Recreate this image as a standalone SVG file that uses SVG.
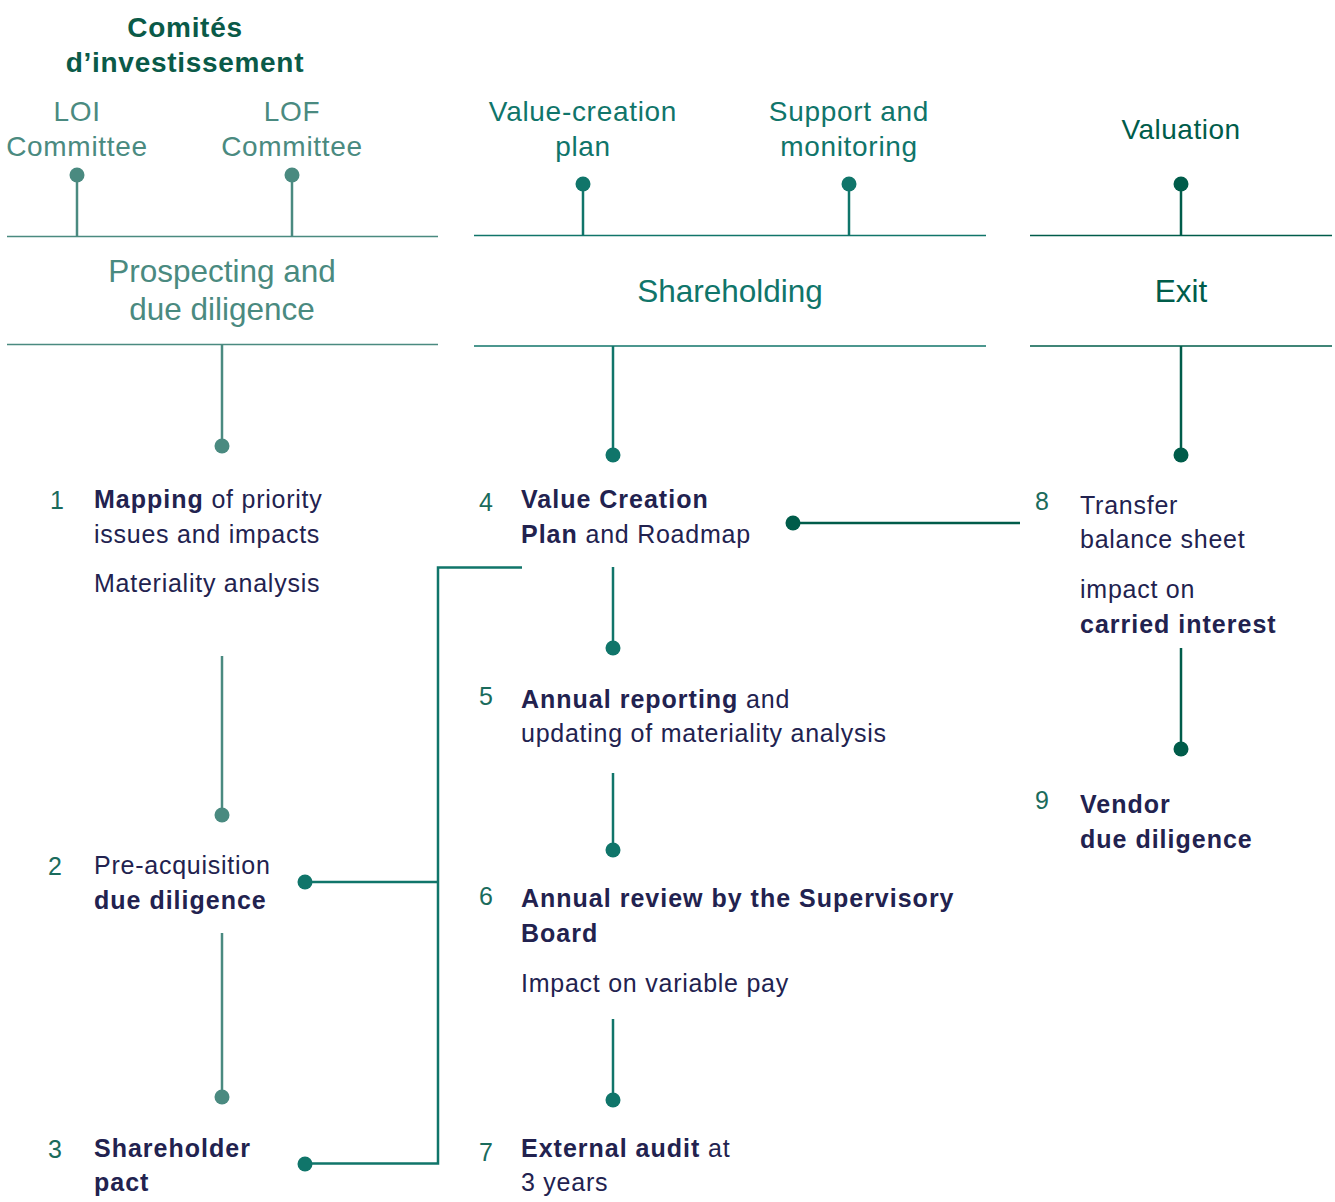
<svg xmlns="http://www.w3.org/2000/svg" width="1335" height="1202" viewBox="0 0 1335 1202">
<style>
text{font-family:"Liberation Sans",Arial,sans-serif}
.t{fill:#22224f;font-size:25px;letter-spacing:0.75px}
.b{font-weight:bold;letter-spacing:1px}
.n{fill:#1a6b5c;font-size:25px}
.h1{fill:#4a8a80;font-size:28px;letter-spacing:0.7px}
.h2{fill:#10756a;font-size:28px;letter-spacing:0.7px}
.h3{fill:#005c4a;font-size:28px;letter-spacing:0.5px}
.s{font-size:31.5px;letter-spacing:0}
.c1{stroke:#4a8a80;stroke-width:2.5;fill:none}
.c2{stroke:#10756a;stroke-width:2.5;fill:none}
.c3{stroke:#005c4a;stroke-width:2.5;fill:none}
.d1{fill:#4a8a80}.d2{fill:#10756a}.d3{fill:#005c4a}
.hl1{stroke:#4a8a80;stroke-width:1.5}
.hl2{stroke:#10756a;stroke-width:1.5}
.hl3{stroke:#005c4a;stroke-width:1.5}
</style>
<g id="title"><text x="185" y="37" text-anchor="middle" font-size="28" font-weight="bold" fill="#0a5a48" letter-spacing="0.7">Comités</text><text x="185" y="72" text-anchor="middle" font-size="28" font-weight="bold" fill="#0a5a48" letter-spacing="0.7">d’investissement</text></g>

<g id="col1-header">
<text class="h1" x="77" y="121" text-anchor="middle">LOI</text><text class="h1" x="77" y="156" text-anchor="middle">Committee</text>
<text class="h1" x="292" y="121" text-anchor="middle">LOF</text><text class="h1" x="292" y="156" text-anchor="middle">Committee</text>
<line class="c1" x1="77" y1="175" x2="77" y2="236"/><circle class="d1" cx="77" cy="175" r="7.5"/>
<line class="c1" x1="292" y1="175" x2="292" y2="236"/><circle class="d1" cx="292" cy="175" r="7.5"/>
<line class="hl1" x1="7" y1="236.5" x2="438" y2="236.5"/>
<text class="h1 s" x="222" y="282" text-anchor="middle">Prospecting and</text>
<text class="h1 s" x="222" y="320" text-anchor="middle">due diligence</text>
<line class="hl1" x1="7" y1="344.5" x2="438" y2="344.5"/>
</g>

<g id="col2-header">
<text class="h2" x="583" y="121" text-anchor="middle">Value-creation</text><text class="h2" x="583" y="156" text-anchor="middle">plan</text>
<text class="h2" x="849" y="121" text-anchor="middle">Support and</text><text class="h2" x="849" y="156" text-anchor="middle">monitoring</text>
<line class="c2" x1="583" y1="184" x2="583" y2="235"/><circle class="d2" cx="583" cy="184" r="7.5"/>
<line class="c2" x1="849" y1="184" x2="849" y2="235"/><circle class="d2" cx="849" cy="184" r="7.5"/>
<line class="hl2" x1="474" y1="235.5" x2="986" y2="235.5"/>
<text class="h2 s" x="730" y="302" text-anchor="middle">Shareholding</text>
<line class="hl2" x1="474" y1="346" x2="986" y2="346"/>
</g>

<g id="col3-header">
<text class="h3" x="1181" y="139" text-anchor="middle">Valuation</text>
<line class="c3" x1="1181" y1="184" x2="1181" y2="235"/><circle class="d3" cx="1181" cy="184" r="7.5"/>
<line class="hl3" x1="1030" y1="235.5" x2="1332" y2="235.5"/>
<text class="h3 s" x="1181" y="302" text-anchor="middle">Exit</text>
<line class="hl3" x1="1030" y1="346" x2="1332" y2="346"/>
</g>

<g id="node1"><text class="n" x="50" y="509">1</text>
<text class="t" x="94" y="508"><tspan class="b">Mapping</tspan> of priority</text>
<text class="t" x="94" y="543">issues and impacts</text>
<text class="t" x="94" y="592">Materiality analysis</text></g>
<g id="node2"><text class="n" x="48" y="875">2</text>
<text class="t" x="94" y="874">Pre-acquisition</text>
<text class="t b" x="94" y="909">due diligence</text></g>
<g id="node3"><text class="n" x="48" y="1158">3</text>
<text class="t b" x="94" y="1157">Shareholder</text>
<text class="t b" x="94" y="1191">pact</text></g>
<g id="node4"><text class="n" x="479" y="511">4</text>
<text class="t b" x="521" y="508">Value Creation</text>
<text class="t" x="521" y="543"><tspan class="b">Plan</tspan> and Roadmap</text></g>
<g id="node5"><text class="n" x="479" y="705">5</text>
<text class="t" x="521" y="708"><tspan class="b">Annual reporting</tspan> and</text>
<text class="t" x="521" y="742">updating of materiality analysis</text></g>
<g id="node6"><text class="n" x="479" y="905">6</text>
<text class="t b" x="521" y="907">Annual review by the Supervisory</text>
<text class="t b" x="521" y="942">Board</text>
<text class="t" x="521" y="992">Impact on variable pay</text></g>
<g id="node7"><text class="n" x="479" y="1161">7</text>
<text class="t" x="521" y="1157"><tspan class="b">External audit</tspan> at</text>
<text class="t" x="521" y="1191">3 years</text></g>
<g id="node8"><text class="n" x="1035" y="510">8</text>
<text class="t" x="1080" y="514">Transfer</text>
<text class="t" x="1080" y="548">balance sheet</text>
<text class="t" x="1080" y="598">impact on</text>
<text class="t b" x="1080" y="633">carried interest</text></g>
<g id="node9"><text class="n" x="1035" y="809">9</text>
<text class="t b" x="1080" y="813">Vendor</text>
<text class="t b" x="1080" y="848">due diligence</text></g>

<g id="connectors">
<line class="c1" x1="222" y1="344" x2="222" y2="446"/><circle class="d1" cx="222" cy="446" r="7.5"/>
<line class="c1" x1="222" y1="656" x2="222" y2="815"/><circle class="d1" cx="222" cy="815" r="7.5"/>
<line class="c1" x1="222" y1="933" x2="222" y2="1097"/><circle class="d1" cx="222" cy="1097" r="7.5"/>
<polyline class="c2" points="522,567.5 438,567.5 438,1163.5 305,1163.5"/>
<line class="c2" x1="305" y1="882" x2="438" y2="882"/>
<circle class="d2" cx="305" cy="882" r="7.5"/><circle class="d2" cx="305" cy="1164" r="7.5"/>
<line class="c2" x1="613" y1="346" x2="613" y2="455"/><circle class="d2" cx="613" cy="455" r="7.5"/>
<line class="c2" x1="613" y1="567" x2="613" y2="648"/><circle class="d2" cx="613" cy="648" r="7.5"/>
<line class="c2" x1="613" y1="773" x2="613" y2="850"/><circle class="d2" cx="613" cy="850" r="7.5"/>
<line class="c2" x1="613" y1="1019" x2="613" y2="1100"/><circle class="d2" cx="613" cy="1100" r="7.5"/>
<line class="c3" x1="793" y1="523" x2="1020" y2="523"/><circle class="d3" cx="793" cy="523" r="7.5"/>
<line class="c3" x1="1181" y1="346" x2="1181" y2="455"/><circle class="d3" cx="1181" cy="455" r="7.5"/>
<line class="c3" x1="1181" y1="648" x2="1181" y2="749"/><circle class="d3" cx="1181" cy="749" r="7.5"/>
</g>
</svg>
